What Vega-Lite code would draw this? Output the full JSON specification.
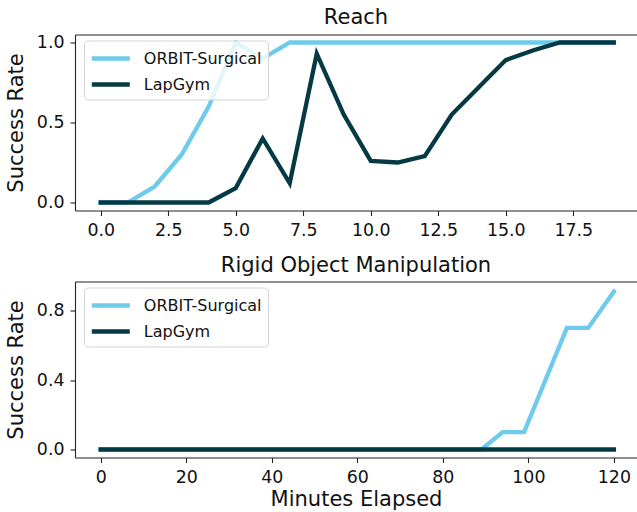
{
  "$schema": "https://vega.github.io/schema/vega-lite/v6.json",
  "padding": {"left": 5, "top": 6.5, "right": 0, "bottom": 0},
  "datasets": {
    "reach": [
      {"x": 0, "series": "ORBIT-Surgical", "y": 0},
      {"x": 1, "series": "ORBIT-Surgical", "y": 0},
      {"x": 2, "series": "ORBIT-Surgical", "y": 0.1},
      {"x": 3, "series": "ORBIT-Surgical", "y": 0.3},
      {"x": 4, "series": "ORBIT-Surgical", "y": 0.6},
      {"x": 5, "series": "ORBIT-Surgical", "y": 1.0},
      {"x": 6, "series": "ORBIT-Surgical", "y": 0.9},
      {"x": 7, "series": "ORBIT-Surgical", "y": 1.0},
      {"x": 8, "series": "ORBIT-Surgical", "y": 1.0},
      {"x": 9, "series": "ORBIT-Surgical", "y": 1.0},
      {"x": 10, "series": "ORBIT-Surgical", "y": 1.0},
      {"x": 11, "series": "ORBIT-Surgical", "y": 1.0},
      {"x": 12, "series": "ORBIT-Surgical", "y": 1.0},
      {"x": 13, "series": "ORBIT-Surgical", "y": 1.0},
      {"x": 14, "series": "ORBIT-Surgical", "y": 1.0},
      {"x": 15, "series": "ORBIT-Surgical", "y": 1.0},
      {"x": 16, "series": "ORBIT-Surgical", "y": 1.0},
      {"x": 17, "series": "ORBIT-Surgical", "y": 1.0},
      {"x": 18, "series": "ORBIT-Surgical", "y": 1.0},
      {"x": 19, "series": "ORBIT-Surgical", "y": 1.0},
      {"x": 0, "series": "LapGym", "y": 0},
      {"x": 1, "series": "LapGym", "y": 0},
      {"x": 2, "series": "LapGym", "y": 0},
      {"x": 3, "series": "LapGym", "y": 0},
      {"x": 4, "series": "LapGym", "y": 0},
      {"x": 5, "series": "LapGym", "y": 0.09},
      {"x": 6, "series": "LapGym", "y": 0.40},
      {"x": 7, "series": "LapGym", "y": 0.12},
      {"x": 8, "series": "LapGym", "y": 0.93},
      {"x": 9, "series": "LapGym", "y": 0.55},
      {"x": 10, "series": "LapGym", "y": 0.26},
      {"x": 11, "series": "LapGym", "y": 0.25},
      {"x": 12, "series": "LapGym", "y": 0.29},
      {"x": 13, "series": "LapGym", "y": 0.55},
      {"x": 14, "series": "LapGym", "y": 0.72},
      {"x": 15, "series": "LapGym", "y": 0.89},
      {"x": 16, "series": "LapGym", "y": 0.95},
      {"x": 17, "series": "LapGym", "y": 1.0},
      {"x": 18, "series": "LapGym", "y": 1.0},
      {"x": 19, "series": "LapGym", "y": 1.0}
    ],
    "rigid": [
      {"x": 0, "series": "ORBIT-Surgical", "y": 0},
      {"x": 89, "series": "ORBIT-Surgical", "y": 0},
      {"x": 94, "series": "ORBIT-Surgical", "y": 0.1},
      {"x": 99, "series": "ORBIT-Surgical", "y": 0.1},
      {"x": 109, "series": "ORBIT-Surgical", "y": 0.7},
      {"x": 114, "series": "ORBIT-Surgical", "y": 0.7},
      {"x": 120, "series": "ORBIT-Surgical", "y": 0.91},
      {"x": 0, "series": "LapGym", "y": 0},
      {"x": 120, "series": "LapGym", "y": 0}
    ]
  },
  "config": {
    "font": "DejaVu Sans",
    "view": {"stroke": null},
    "axis": {
      "domain": true, "domainColor": "#222222", "domainWidth": 1.1, "grid": false,
      "tickColor": "#222222", "tickSize": 5, "tickWidth": 1.1,
      "labelFontSize": 17.4, "labelColor": "#111111", "labelPadding": 6,
      "titleFontSize": 21, "titleColor": "#111111", "titleFontWeight": "normal"
    },
    "axisY": {"titlePadding": 10},
    "title": {"fontSize": 21, "fontWeight": "normal", "color": "#111111", "offset": 6},
    "legend": {
      "orient": "none", "legendX": 9, "legendY": 6,
      "title": null,
      "labelFontSize": 16, "labelColor": "#111111",
      "symbolType": "M-2,0H2", "symbolStrokeWidth": 4.5, "symbolSize": 361,
      "symbolOffset": 8.8, "labelOffset": 21, "rowPadding": 5,
      "padding": 6, "strokeColor": "#d4d4d4", "fillColor": "rgba(255,255,255,0.8)", "cornerRadius": 4
    }
  },
  "spacing": 15,
  "vconcat": [
    {
      "title": "Reach",
      "width": 562, "height": 176,
      "data": {"name": "reach"},
      "encoding": {
        "y": {"field": "y", "type": "quantitative", "title": "Success Rate",
              "scale": {"domain": [-0.05, 1.05], "nice": false, "zero": false},
              "axis": {"values": [0, 0.5, 1], "format": ".1f"}},
        "color": {"field": "series", "type": "nominal",
                  "scale": {"domain": ["ORBIT-Surgical", "LapGym"], "range": ["#6ECBEB", "#053A44"]}}
      },
      "layer": [
        {"transform": [{"filter": "datum.series === 'ORBIT-Surgical'"}],
         "mark": {"type": "line", "strokeWidth": 4.3, "strokeCap": "square", "clip": true},
         "encoding": {
           "x": {"field": "x", "type": "quantitative", "title": null,
                 "scale": {"domain": [-0.952, 19.86], "nice": false, "zero": false},
                 "axis": {"values": [0, 2.5, 5, 7.5, 10, 12.5, 15, 17.5], "format": ".1f"}}
         }},
        {"transform": [{"filter": "datum.series === 'LapGym'"}],
         "mark": {"type": "line", "strokeWidth": 4.3, "strokeCap": "square", "clip": true},
         "encoding": {
           "x": {"field": "x", "type": "quantitative", "title": null,
                 "scale": {"domain": [-0.952, 19.86], "nice": false, "zero": false},
                 "axis": {"orient": "top", "labels": false, "ticks": false, "title": null}}
         }}
      ],
      "resolve": {"axis": {"x": "independent"}}
    },
    {
      "title": "Rigid Object Manipulation",
      "width": 562, "height": 176,
      "data": {"name": "rigid"},
      "encoding": {
        "y": {"field": "y", "type": "quantitative", "title": "Success Rate",
              "scale": {"domain": [-0.046, 0.967], "nice": false, "zero": false},
              "axis": {"values": [0, 0.4, 0.8], "format": ".1f"}},
        "color": {"field": "series", "type": "nominal",
                  "scale": {"domain": ["ORBIT-Surgical", "LapGym"], "range": ["#6ECBEB", "#053A44"]}}
      },
      "layer": [
        {"transform": [{"filter": "datum.series === 'ORBIT-Surgical'"}],
         "mark": {"type": "line", "strokeWidth": 4.3, "strokeCap": "square", "clip": true},
         "encoding": {
           "x": {"field": "x", "type": "quantitative", "title": "Minutes Elapsed",
                 "scale": {"domain": [-6, 125.4], "nice": false, "zero": false},
                 "axis": {"values": [0, 20, 40, 60, 80, 100, 120], "format": "d", "titlePadding": 3}}
         }},
        {"transform": [{"filter": "datum.series === 'LapGym'"}],
         "mark": {"type": "line", "strokeWidth": 4.3, "strokeCap": "square", "clip": true},
         "encoding": {
           "x": {"field": "x", "type": "quantitative", "title": null,
                 "scale": {"domain": [-6, 125.4], "nice": false, "zero": false},
                 "axis": {"orient": "top", "labels": false, "ticks": false, "title": null}}
         }}
      ],
      "resolve": {"axis": {"x": "independent"}}
    }
  ],
  "resolve": {"legend": {"color": "independent"}, "scale": {"color": "independent"}}
}
